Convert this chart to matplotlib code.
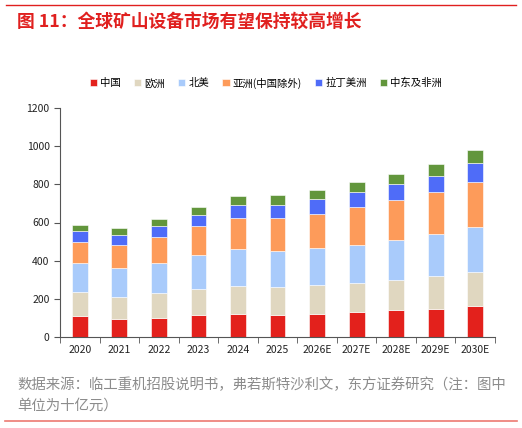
import numpy as np
import matplotlib.pyplot as plt
from matplotlib.ticker import FixedLocator

plt.rcParams['font.family'] = ['Noto Sans CJK SC', 'DejaVu Sans']

# data (billion yuan)
years = ["2020", "2021", "2022", "2023", "2024", "2025",
         "2026E", "2027E", "2028E", "2029E", "2030E"]
series_names = ["中国", "欧洲", "北美", "亚洲(中国除外)", "拉丁美洲", "中东及非洲"]
china = [110, 95, 102, 114, 123, 114, 123, 130, 139, 149, 163]
europe = [127, 117, 128, 137, 144, 147, 149, 152, 159, 169, 176]
north_america = [152, 149, 159, 177, 193, 192, 193, 200, 209, 221, 235]
asia_ex_china = [107, 123, 137, 153, 166, 170, 181, 197, 211, 221, 240]
latin_america = [58, 51, 55, 59, 67, 70, 79, 81, 82, 86, 100]
mideast_africa = [34, 35, 36, 41, 46, 49, 47, 51, 56, 63, 68]

colors = ["#e3211c", "#e0d7c0", "#a9cbfb", "#fd9b5a", "#4f6cf8", "#62963c"]

fig = plt.figure(figsize=(5.22, 4.28), dpi=100)

# title and red rules
fig.add_artist(plt.Line2D([6 / 522, 516 / 522], [1 - 5 / 428, 1 - 5 / 428],
                          color="#e0201f", lw=1.0))
fig.text(17 / 522, 1 - 22 / 428, "图 11：全球矿山设备市场有望保持较高增长",
         color="#e0201f", fontsize=12.8, fontweight="bold", va="center", ha="left")

ax = fig.add_axes([60 / 522, 1 - 337 / 428, 435 / 522, 229 / 428])

x = np.arange(len(years))
all_series = [china, europe, north_america, asia_ex_china, latin_america, mideast_africa]
bottom = np.zeros(len(years))
for name, vals, c in zip(series_names, all_series, colors):
    ax.bar(x, vals, width=0.4, bottom=bottom, color=c, label=name,
           edgecolor="white", linewidth=0.4)
    bottom += np.array(vals)

ax.set_xlim(-0.5, len(years) - 0.5)
ax.set_ylim(0, 1200)
ax.set_yticks(range(0, 1201, 200))
ax.set_xticks(x)
ax.set_xticklabels(years)
ax.xaxis.set_minor_locator(FixedLocator(np.arange(-0.5, len(years), 1.0)))
ax.tick_params(axis="x", which="major", length=0, labelsize=7.5, pad=6, colors="#222222")
ax.tick_params(axis="x", which="minor", length=4, color="#555555")
ax.tick_params(axis="y", length=4, labelsize=7.5, color="#555555", labelcolor="#222222")
for s in ["top", "right"]:
    ax.spines[s].set_visible(False)
for s in ["left", "bottom"]:
    ax.spines[s].set_color("#555555")
    ax.spines[s].set_linewidth(0.8)

fig.legend(loc="center", bbox_to_anchor=(266 / 522, 1 - 83 / 428), ncol=6,
           frameon=False, fontsize=7.5, handlelength=0.7, handleheight=0.7,
           handletextpad=0.3, columnspacing=1.25)

fig.text(17 / 522, 1 - 385 / 428,
         "数据来源：临工重机招股说明书，弗若斯特沙利文，东方证券研究（注：图中",
         color="#8c8c8c", fontsize=10.4, va="center", ha="left")
fig.text(17 / 522, 1 - 406 / 428, "单位为十亿元）",
         color="#8c8c8c", fontsize=10.4, va="center", ha="left")
fig.add_artist(plt.Line2D([5 / 522, 517 / 522], [1 - 421 / 428, 1 - 421 / 428],
                          color="#ec7a72", lw=1.2))

fig.savefig("out.png", dpi=100)
